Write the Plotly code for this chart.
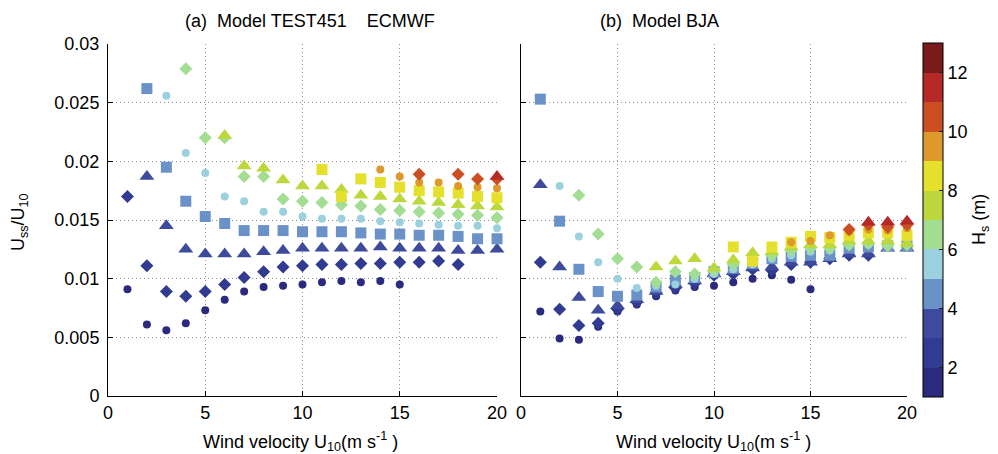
import plotly.graph_objects as go

# ---------------- data ----------------
HS_LEVELS = [1, 2, 3, 4, 5, 6, 7, 8, 9, 10, 11]
BAND_COLORS = ["#2a2a7e", "#303b91", "#3e4a9c", "#6a92c8", "#9bd0de", "#a2dd92",
               "#bcd83c", "#e5e02b", "#dd9a2b", "#cc4f24", "#b52a27", "#7b1a1a"]
CBAR_TICKS = [2, 4, 6, 8, 10, 12]
X_TICKS = [0, 5, 10, 15, 20]
Y_TICKS = [0, 0.005, 0.01, 0.015, 0.02, 0.025, 0.03]
Y_TICKTEXT = ["0", "0.005", "0.01", "0.015", "0.02", "0.025", "0.03"]

# Panel (a) Model TEST451 ECMWF
A_HS1_U = [1, 2, 3, 4, 5, 6, 7, 8, 9, 10, 11, 12, 13, 14, 15]
A_HS1_V = [0.0091, 0.0061, 0.0056, 0.0062, 0.0073, 0.0082, 0.0089, 0.0093, 0.0094, 0.0095, 0.0097, 0.0098, 0.0097, 0.0098, 0.0095]
A_HS2_U = [1, 2, 3, 4, 5, 6, 7, 8, 9, 10, 11, 12, 13, 14, 15, 16, 17, 18]
A_HS2_V = [0.0170, 0.0111, 0.0089, 0.0085, 0.0089, 0.0095, 0.0101, 0.0106, 0.0110, 0.0111, 0.0112, 0.0112, 0.0113, 0.0113, 0.0114, 0.0114, 0.0115, 0.0112]
A_HS3_U = [2, 3, 4, 5, 6, 7, 8, 9, 10, 11, 12, 13, 14, 15, 16, 17, 18, 19, 20]
A_HS3_V = [0.0187, 0.0145, 0.0125, 0.0121, 0.0121, 0.0121, 0.0123, 0.0124, 0.0126, 0.0126, 0.0126, 0.0126, 0.0127, 0.0126, 0.0126, 0.0126, 0.0124, 0.0124, 0.0125]
A_HS4_U = [2, 3, 4, 5, 6, 7, 8, 9, 10, 11, 12, 13, 14, 15, 16, 17, 18, 19, 20]
A_HS4_V = [0.0262, 0.0195, 0.0166, 0.0153, 0.0147, 0.0141, 0.0141, 0.0141, 0.0140, 0.0140, 0.0140, 0.0139, 0.0138, 0.0138, 0.0137, 0.0137, 0.0136, 0.0134, 0.0134]
A_HS5_U = [3, 4, 5, 6, 7, 8, 9, 10, 11, 12, 13, 14, 15, 16, 17, 18, 19, 20]
A_HS5_V = [0.0256, 0.0207, 0.0190, 0.0170, 0.0166, 0.0157, 0.0157, 0.0153, 0.0151, 0.0151, 0.0151, 0.0149, 0.0148, 0.0147, 0.0146, 0.0145, 0.0145, 0.0143]
A_HS6_U = [4, 5, 6, 7, 8, 9, 10, 11, 12, 13, 14, 15, 16, 17, 18, 19, 20]
A_HS6_V = [0.0279, 0.0220, 0.0220, 0.0187, 0.0187, 0.0168, 0.0166, 0.0165, 0.0163, 0.0162, 0.0159, 0.0158, 0.0157, 0.0156, 0.0155, 0.0154, 0.0152]
A_HS7_U = [6, 7, 8, 9, 10, 11, 12, 13, 14, 15, 16, 17, 18, 19, 20]
A_HS7_V = [0.0222, 0.0196, 0.0194, 0.0184, 0.0179, 0.0179, 0.0176, 0.0171, 0.0170, 0.0168, 0.0166, 0.0165, 0.0163, 0.0162, 0.0161]
A_HS8_U = [11, 12, 13, 14, 15, 16, 17, 18, 19, 20]
A_HS8_V = [0.0193, 0.0170, 0.0185, 0.0182, 0.0178, 0.0175, 0.0174, 0.0173, 0.0170, 0.0169]
A_HS9_U = [14, 15, 16, 17, 18, 19, 20]
A_HS9_V = [0.0193, 0.0187, 0.0182, 0.0182, 0.0179, 0.0178, 0.0177]
A_HS10_U = [16, 18, 19, 20]
A_HS10_V = [0.0189, 0.0189, 0.0185, 0.0185]
A_HS11_U = [20]
A_HS11_V = [0.0187]

# Panel (b) Model BJA
B_HS1_U = [1, 2, 3, 4, 5, 6, 7, 8, 9, 10, 11, 12, 13, 14, 15]
B_HS1_V = [0.0072, 0.0049, 0.0048, 0.0059, 0.0072, 0.0078, 0.0085, 0.0090, 0.0093, 0.0094, 0.0097, 0.0100, 0.0103, 0.0099, 0.0091]
B_HS2_U = [1, 2, 3, 4, 5, 6, 7, 8, 9, 10, 11, 12, 13, 14, 15, 16, 17, 18]
B_HS2_V = [0.0114, 0.0074, 0.0060, 0.0062, 0.0074, 0.0080, 0.0088, 0.0092, 0.0096, 0.0103, 0.0104, 0.0108, 0.0107, 0.0112, 0.0114, 0.0117, 0.0120, 0.0120]
B_HS3_U = [1, 2, 3, 4, 5, 6, 7, 8, 9, 10, 11, 12, 13, 14, 15, 16, 17, 18, 19, 20]
B_HS3_V = [0.0180, 0.0110, 0.0084, 0.0073, 0.0077, 0.0082, 0.0089, 0.0095, 0.0098, 0.0104, 0.0106, 0.0109, 0.0110, 0.0114, 0.0114, 0.0117, 0.0121, 0.0121, 0.0126, 0.0126]
B_HS4_U = [1, 2, 3, 4, 5, 6, 7, 8, 9, 10, 11, 12, 13, 14, 15, 16, 17, 18, 19, 20]
B_HS4_V = [0.0253, 0.0149, 0.0108, 0.0089, 0.0085, 0.0086, 0.0093, 0.0099, 0.0101, 0.0106, 0.0109, 0.0113, 0.0117, 0.0119, 0.0120, 0.0120, 0.0126, 0.0127, 0.0128, 0.0128]
B_HS5_U = [2, 3, 4, 5, 6, 7, 8, 9, 10, 11, 12, 13, 14, 15, 16, 17, 18, 19, 20]
B_HS5_V = [0.0179, 0.0136, 0.0114, 0.0100, 0.0092, 0.0094, 0.0095, 0.0100, 0.0104, 0.0108, 0.0112, 0.0117, 0.0120, 0.0123, 0.0124, 0.0128, 0.0129, 0.0129, 0.0130]
B_HS6_U = [3, 4, 5, 6, 7, 8, 9, 10, 11, 12, 13, 14, 15, 16, 17, 18, 19, 20]
B_HS6_V = [0.0171, 0.0138, 0.0117, 0.0110, 0.0097, 0.0106, 0.0104, 0.0107, 0.0112, 0.0117, 0.0120, 0.0124, 0.0126, 0.0126, 0.0129, 0.0130, 0.0128, 0.0129]
B_HS7_U = [7, 8, 9, 10, 11, 12, 13, 14, 15, 16, 17, 18, 19, 20]
B_HS7_V = [0.0110, 0.0115, 0.0117, 0.0109, 0.0116, 0.0122, 0.0123, 0.0127, 0.0129, 0.0129, 0.0132, 0.0132, 0.0132, 0.0130]
B_HS8_U = [11, 12, 13, 14, 15, 16, 17, 18, 19, 20]
B_HS8_V = [0.0127, 0.0115, 0.0127, 0.0131, 0.0136, 0.0135, 0.0137, 0.0139, 0.0139, 0.0137]
B_HS9_U = [14, 15, 16, 17, 18, 19, 20]
B_HS9_V = [0.0131, 0.0132, 0.0137, 0.0140, 0.0142, 0.0141, 0.0143]
B_HS10_U = [17, 18, 19, 20]
B_HS10_V = [0.0142, 0.0146, 0.0144, 0.0146]
B_HS11_U = [18, 19, 20]
B_HS11_V = [0.0148, 0.0148, 0.0149]

PANEL_A = [(A_HS1_U, A_HS1_V), (A_HS2_U, A_HS2_V), (A_HS3_U, A_HS3_V), (A_HS4_U, A_HS4_V),
           (A_HS5_U, A_HS5_V), (A_HS6_U, A_HS6_V), (A_HS7_U, A_HS7_V), (A_HS8_U, A_HS8_V),
           (A_HS9_U, A_HS9_V), (A_HS10_U, A_HS10_V), (A_HS11_U, A_HS11_V)]
PANEL_B = [(B_HS1_U, B_HS1_V), (B_HS2_U, B_HS2_V), (B_HS3_U, B_HS3_V), (B_HS4_U, B_HS4_V),
           (B_HS5_U, B_HS5_V), (B_HS6_U, B_HS6_V), (B_HS7_U, B_HS7_V), (B_HS8_U, B_HS8_V),
           (B_HS9_U, B_HS9_V), (B_HS10_U, B_HS10_V), (B_HS11_U, B_HS11_V)]

# ---------------- styling ----------------
W, H = 998, 454
FONT = "Liberation Sans, Arial, Helvetica, sans-serif"
SYMBOLS = ["circle", "diamond", "triangle-up", "square"]
SIZES = {"circle": 8, "diamond": 10, "triangle-up": 13, "square": 11}
GRID = "#8c8c8c"


def fx(p):
    return p / W


def fy(p):
    return 1 - p / H


fig = go.Figure()

for panel, (xa, ya) in ((PANEL_A, ("x", "y")), (PANEL_B, ("x2", "y2"))):
    for i, (u, v) in enumerate(panel):
        hs = HS_LEVELS[i]
        sym = SYMBOLS[i % 4]
        fig.add_trace(go.Scatter(
            x=u, y=v, mode="markers", xaxis=xa, yaxis=ya, showlegend=False,
            cliponaxis=False,
            marker=dict(symbol=sym, size=SIZES[sym], color=BAND_COLORS[hs - 1],
                        line=dict(width=0)),
        ))

# colorbar (discrete bands 1..13)
n = len(BAND_COLORS)
cscale = []
for i, c in enumerate(BAND_COLORS):
    cscale.append([i / n, c])
    cscale.append([(i + 1) / n, c])

fig.add_trace(go.Scatter(
    x=[None], y=[None], mode="markers", showlegend=False, xaxis="x2", yaxis="y2",
    marker=dict(color=[1], cmin=1, cmax=13, colorscale=cscale, showscale=True,
                colorbar=dict(
                    x=fx(923), xanchor="left", xpad=0, xref="paper",
                    y=fy(220), yanchor="middle", ypad=0, yref="paper",
                    len=354 / H, lenmode="fraction",
                    thickness=20, thicknessmode="pixels",
                    outlinecolor="black", outlinewidth=1,
                    tickvals=CBAR_TICKS, ticks="inside", ticklen=4, tickcolor="#222",
                    tickfont=dict(family=FONT, size=18, color="black"),
                )),
))

axis_common = dict(
    showgrid=True, gridcolor=GRID, griddash="1px,3px", gridwidth=1,
    zeroline=False, showline=True, linecolor="black", linewidth=1,
    ticks="inside", ticklen=5, tickcolor="black",
    tickfont=dict(family=FONT, size=18, color="black"),
)

ydom = [fy(396), fy(44)]
fig.update_layout(
    width=W, height=H,
    margin=dict(l=0, r=0, t=0, b=0, pad=0, autoexpand=False),
    paper_bgcolor="white", plot_bgcolor="white",
    font=dict(family=FONT, size=18, color="black"),
    xaxis=dict(domain=[fx(108), fx(497)], range=[0, 20], tickvals=X_TICKS, anchor="y", **axis_common),
    yaxis=dict(domain=ydom, range=[0, 0.03], tickvals=Y_TICKS, ticktext=Y_TICKTEXT, anchor="x",
               ticklabelstandoff=4, **axis_common),
    xaxis2=dict(domain=[fx(521), fx(907)], range=[0, 20], tickvals=X_TICKS, anchor="y2", **axis_common),
    yaxis2=dict(domain=ydom, range=[0, 0.03], tickvals=Y_TICKS, showticklabels=False, anchor="x2", **axis_common),
)

annots = [
    dict(text="(a)&nbsp; Model TEST451&nbsp;&nbsp;&nbsp; ECMWF", x=fx(310), y=fy(21), xanchor="center", yanchor="middle"),
    dict(text="(b)&nbsp; Model BJA", x=fx(598), y=fy(21), xanchor="left", yanchor="middle"),
    dict(text="Wind velocity U<sub>10</sub>(m s<sup>-1</sup> )", x=fx(300), y=fy(441), xanchor="center", yanchor="middle"),
    dict(text="Wind velocity U<sub>10</sub>(m s<sup>-1</sup> )", x=fx(713), y=fy(441), xanchor="center", yanchor="middle"),
    dict(text="U<sub>ss</sub>/U<sub>10</sub>", x=fx(19), y=fy(222), xanchor="center", yanchor="middle", textangle=-90),
    dict(text="H<sub>s</sub> (m)", x=fx(980), y=fy(220), xanchor="center", yanchor="middle", textangle=-90),
]
for a in annots:
    fig.add_annotation(xref="paper", yref="paper", showarrow=False,
                       font=dict(family=FONT, size=18, color="black"), **a)

fig.write_html("out.html")
